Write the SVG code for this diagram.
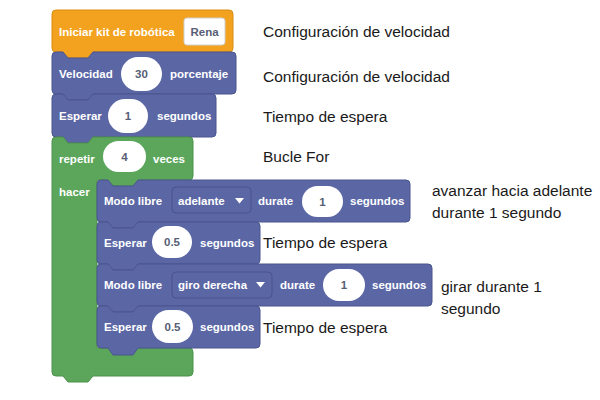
<svg xmlns="http://www.w3.org/2000/svg" width="600" height="400" viewBox="0 0 600 400">
<style>
.bg{fill:#ffffff}
.orange{fill:#F2A21E;stroke:#D98C12;stroke-width:1}
.blue{fill:#5B67A5;stroke:#4A558F;stroke-width:1}
.green{fill:#5BA65B;stroke:#4C914C;stroke-width:1}
.t{font-family:"Liberation Sans",Arial,sans-serif;font-size:11.5px;font-weight:bold;fill:#ffffff}
.v{font-family:"Liberation Sans",Arial,sans-serif;font-size:11.5px;font-weight:bold;fill:#575E75;text-anchor:middle}
.oval{fill:#ffffff}
.field{fill:#ffffff;stroke:#D0D0D0;stroke-width:1}
.dd{fill:#5B67A5;stroke:#48538C;stroke-width:1}
.tri{fill:#ffffff}
.lbl{font-family:"Liberation Sans",Arial,sans-serif;font-size:15.5px;fill:#1a1a1a}
</style>
<rect class="bg" x="0" y="0" width="600" height="400"/>

<g id="start">
<path class="orange" d="M52,14 Q52,10 56,10 L229,10 Q233,10 233,14 L233,48 Q233,52 229,52 L93,52 L88,58 L68,58 L63,52 L56,52 Q52,52 52,48 Z"/>
<text class="t" x="59" y="35.5">Iniciar kit de robótica</text>
<rect class="field" x="184" y="18" width="41" height="27" rx="3"/>
<text class="v" x="204.5" y="35.5">Rena</text>
</g>

<g id="velocidad">
<path class="blue" d="M52,56 Q52,52 56,52 L63,52 L68,58 L88,58 L93,52 L232,52 Q236,52 236,56 L236,90 Q236,94 232,94 L93,94 L88,100 L68,100 L63,94 L56,94 Q52,94 52,90 Z"/>
<text class="t" x="59" y="77.5">Velocidad</text>
<rect class="oval" x="121" y="57" width="41" height="34" rx="17"/>
<text class="v" x="141.5" y="78">30</text>
<text class="t" x="170" y="77.5">porcentaje</text>
</g>

<g id="esperar1">
<path class="blue" d="M52,98 Q52,94 56,94 L63,94 L68,100 L88,100 L93,94 L212,94 Q216,94 216,98 L216,133 Q216,137 212,137 L93,137 L88,143 L68,143 L63,137 L56,137 Q52,137 52,133 Z"/>
<text class="t" x="59" y="120">Esperar</text>
<rect class="oval" x="108" y="99" width="40" height="34" rx="17"/>
<text class="v" x="128" y="120">1</text>
<text class="t" x="157" y="120">segundos</text>
</g>

<g id="repetir">
<path class="green" d="M52,141 Q52,137 56,137 L63,137 L68,143 L88,143 L93,137 L189,137 Q193,137 193,141 L193,176 Q193,180 189,180 L138,180 L133,186 L113,186 L108,180 L97,180 L97,348 L189,348 Q193,348 193,352 L193,372 Q193,376 189,376 L93,376 L88,382 L68,382 L63,376 L56,376 Q52,376 52,372 Z"/>
<text class="t" x="59" y="163">repetir</text>
<rect class="oval" x="103" y="141" width="43" height="31" rx="15.5"/>
<text class="v" x="124.5" y="161">4</text>
<text class="t" x="153" y="163">veces</text>
<text class="t" x="59" y="196">hacer</text>
</g>

<g id="modo1">
<path class="blue" d="M97,184 Q97,180 101,180 L108,180 L113,186 L133,186 L138,180 L406,180 Q410,180 410,184 L410,218 Q410,222 406,222 L138,222 L133,228 L113,228 L108,222 L101,222 Q97,222 97,218 Z"/>
<text class="t" x="104" y="205">Modo libre</text>
<rect class="dd" x="172" y="187" width="79" height="26" rx="4"/>
<text class="t" x="178" y="205">adelante</text>
<path class="tri" d="M235,198 L244,198 L239.5,203.5 Z"/>
<text class="t" x="258" y="205">durate</text>
<rect class="oval" x="302" y="186" width="41" height="31" rx="15.5"/>
<text class="v" x="322.5" y="205.5">1</text>
<text class="t" x="350" y="205">segundos</text>
</g>

<g id="esperar2">
<path class="blue" d="M97,226 Q97,222 101,222 L108,222 L113,228 L133,228 L138,222 L256,222 Q260,222 260,226 L260,260 Q260,264 256,264 L138,264 L133,270 L113,270 L108,264 L101,264 Q97,264 97,260 Z"/>
<text class="t" x="104" y="247">Esperar</text>
<rect class="oval" x="152" y="226" width="40" height="32" rx="16"/>
<text class="v" x="172" y="246">0.5</text>
<text class="t" x="200" y="247">segundos</text>
</g>

<g id="modo2">
<path class="blue" d="M97,268 Q97,264 101,264 L108,264 L113,270 L133,270 L138,264 L428,264 Q432,264 432,268 L432,302 Q432,306 428,306 L138,306 L133,312 L113,312 L108,306 L101,306 Q97,306 97,302 Z"/>
<text class="t" x="104" y="289">Modo libre</text>
<rect class="dd" x="172" y="272" width="100" height="26" rx="4"/>
<text class="t" x="178" y="289">giro derecha</text>
<path class="tri" d="M256,282 L265,282 L260.5,287.5 Z"/>
<text class="t" x="280" y="289">durate</text>
<rect class="oval" x="323" y="269" width="42" height="32" rx="16"/>
<text class="v" x="344" y="289">1</text>
<text class="t" x="372" y="289">segundos</text>
</g>

<g id="esperar3">
<path class="blue" d="M97,310 Q97,306 101,306 L108,306 L113,312 L133,312 L138,306 L256,306 Q260,306 260,310 L260,344 Q260,348 256,348 L138,348 L133,355 L113,355 L108,348 L101,348 Q97,348 97,344 Z"/>
<text class="t" x="104" y="331">Esperar</text>
<rect class="oval" x="152" y="310" width="41" height="33" rx="16.5"/>
<text class="v" x="172.5" y="330.5">0.5</text>
<text class="t" x="200" y="331">segundos</text>
</g>

<g id="labels">
<text class="lbl" x="263" y="37">Configuración de velocidad</text>
<text class="lbl" x="263" y="82">Configuración de velocidad</text>
<text class="lbl" x="263" y="122">Tiempo de espera</text>
<text class="lbl" x="263" y="162">Bucle For</text>
<text class="lbl" x="432" y="196">avanzar hacia adelante</text>
<text class="lbl" x="432" y="218">durante 1 segundo</text>
<text class="lbl" x="263" y="248">Tiempo de espera</text>
<text class="lbl" x="441" y="292">girar durante 1</text>
<text class="lbl" x="441" y="314">segundo</text>
<text class="lbl" x="263" y="333">Tiempo de espera</text>
</g>
</svg>
